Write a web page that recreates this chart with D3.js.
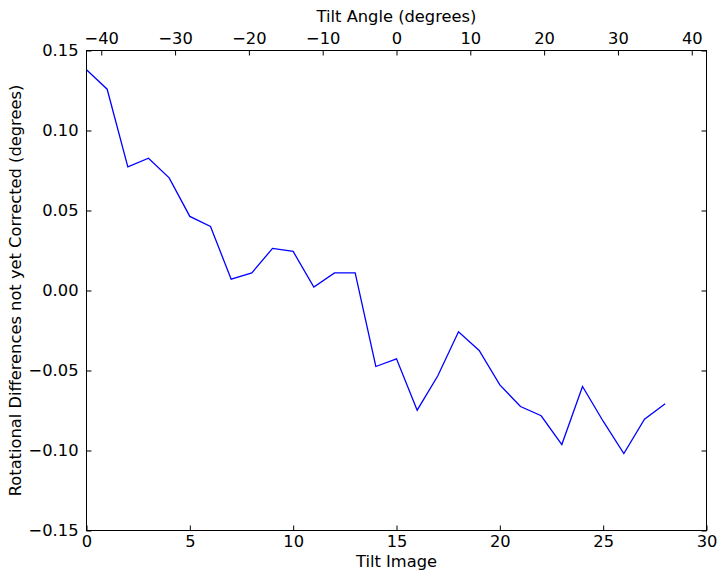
<!DOCTYPE html>
<html>
<head>
<meta charset="utf-8">
<script src="https://cdn.jsdelivr.net/npm/d3@7/dist/d3.min.js"></script>
<style>
  html, body { margin: 0; padding: 0; background: #fff; }
  svg text { font-family: "DejaVu Sans", sans-serif; font-size: 16.3px; fill: #000; }
</style>
</head>
<body>
<svg id="chart" width="725" height="579"></svg>
<script>
const tiltImage = d3.range(0, 29);
const rotationalDiff = [0.138, 0.1258, 0.0773, 0.0827, 0.0704, 0.0463, 0.0400, 0.0071, 0.0110, 0.0263,
  0.0244, 0.0021, 0.0110, 0.0110, -0.0475, -0.0427, -0.0748, -0.0533, -0.0258, -0.0375,
  -0.0590, -0.0725, -0.0783, -0.0963, -0.0600, -0.0817, -0.1019, -0.0804, -0.0708];
const xTicks = [0, 5, 10, 15, 20, 25, 30];
const yTicks = [-0.15, -0.10, -0.05, 0.00, 0.05, 0.10, 0.15];
const angleTicks = [-40, -30, -20, -10, 0, 10, 20, 30, 40];

const L = 86.5, R = 706.5, T = 50.5, B = 530.5;
const svg = d3.select("#chart");
const x = d3.scaleLinear().domain([0, 30]).range([L, R]);
const xTop = d3.scaleLinear().domain([-42, 42]).range([L, R]);
const y = d3.scaleLinear().domain([-0.15, 0.15]).range([B, T]);
const fmtMinus = s => s.replace("-", "\u2212");
const tl = 5;

const gB = svg.append("g").attr("transform", `translate(0,${B})`)
  .call(d3.axisBottom(x).tickValues(xTicks).tickSize(-tl).tickPadding(5).tickFormat(d3.format("d")));
const gT = svg.append("g").attr("transform", `translate(0,${T})`)
  .call(d3.axisTop(xTop).tickValues(angleTicks).tickSize(-tl).tickPadding(7).tickFormat(d => fmtMinus(d3.format("d")(d))));
const gL = svg.append("g").attr("transform", `translate(${L},0)`)
  .call(d3.axisLeft(y).tickValues(yTicks).tickSize(-tl).tickPadding(8).tickFormat(d => fmtMinus(d3.format(".2f")(d))));
const gR = svg.append("g").attr("transform", `translate(${R},0)`)
  .call(d3.axisRight(y).tickValues(yTicks).tickSize(-tl).tickFormat(""));

[gB, gT, gL, gR].forEach(g => {
  g.select(".domain").remove();
  g.selectAll(".tick line").attr("stroke", "#000").attr("stroke-width", 1);
  g.selectAll("text").attr("font-family", "DejaVu Sans").attr("font-size", 16.3).attr("fill", "#000");
});

const line = d3.line().x((d, i) => x(tiltImage[i])).y(d => y(d));
svg.append("path").datum(rotationalDiff)
  .attr("d", line).attr("fill", "none").attr("stroke", "#0000ff").attr("stroke-width", 1.3);

svg.append("rect").attr("x", L).attr("y", T).attr("width", R - L).attr("height", B - T)
  .attr("fill", "none").attr("stroke", "#000").attr("stroke-width", 1);

svg.append("text").attr("x", (L + R) / 2).attr("y", 567).attr("text-anchor", "middle").text("Tilt Image");
svg.append("text").attr("x", (L + R) / 2).attr("y", 22).attr("text-anchor", "middle").text("Tilt Angle (degrees)");
svg.append("text").attr("transform", `translate(21,${(T + B) / 2}) rotate(-90)`)
  .attr("text-anchor", "middle").text("Rotational Differences not yet Corrected (degrees)");
</script>
</body>
</html>
